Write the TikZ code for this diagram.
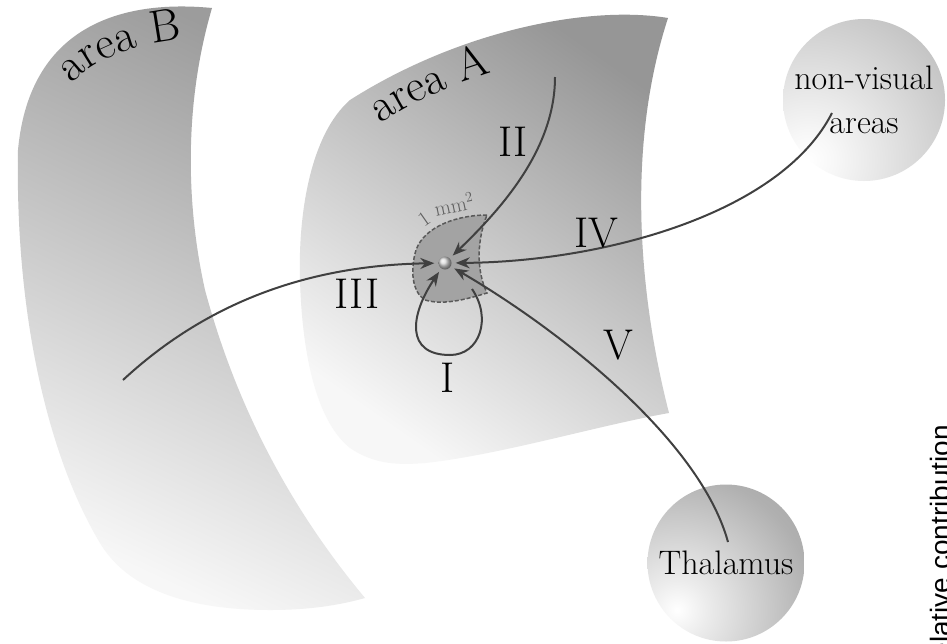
\documentclass[tikz,border=0pt]{standalone}
\usepackage{fontspec}
\newfontfamily\labelsans{Liberation Sans}
\usetikzlibrary{arrows.meta,decorations.text}
\pgfdeclareradialshading{thalglow}{\pgfpointorigin}{color(0bp)=(white); color(5bp)=(gray!15); color(22.7bp)=(gray!62); color(49bp)=(gray!93); color(50bp)=(gray!93)}
\pgfdeclareradialshading{nvglow}{\pgfpointorigin}{color(0bp)=(white); color(4bp)=(gray!6); color(24.8bp)=(gray!46); color(49.4bp)=(gray!80); color(50bp)=(gray!80)}
\tikzset{
  areashade/.style={top color=gray!82, bottom color=gray!6, shading angle=-35, draw=none},
  areaBshade/.style={top color=gray!78, bottom color=gray!6, shading angle=-25, draw=none},
  sphere/.style={circle, inner sep=0pt, draw=none, font=\fontsize{34}{44}\selectfont, align=center},
  conn/.style={draw=black!75, line width=2pt, -{Stealth[length=14pt,width=11pt]}, shorten >=4pt},
  numlab/.style={font=\fontsize{43}{50}\selectfont, inner sep=0pt},
  mmlab/.style={font=\fontsize{21}{24}\selectfont, text=black!62, inner sep=0pt},
  patchstyle/.style={fill=gray!72, draw=black!65, line width=1.5pt, dash pattern=on 4pt off 2pt},
  centreball/.style={circle, inner sep=0pt, minimum size=13pt, shading=ball, ball color=gray!30, draw=none}
}
\begin{document}
\begin{tikzpicture}[x=1pt,y=-1pt]
\clip (0,0) rectangle (947,643);
\fill[white] (0,0) rectangle (947,643);
% area B
\path[areaBshade] (212,8) .. controls (130,0) and (30,20) .. (18,150)
  .. controls (15,320) and (50,460) .. (100,543)
  .. controls (125,585) and (180,610) .. (270,610)
  .. controls (310,610) and (340,605) .. (365,598)
  .. controls (300,520) and (240,420) .. (205,290)
  .. controls (185,200) and (185,100) .. (212,8) -- cycle;
% area A
\path[areashade] (668,18) .. controls (590,5) and (460,30) .. (350,100)
  .. controls (310,135) and (298,215) .. (300,280)
  .. controls (302,350) and (315,420) .. (350,448)
  .. controls (375,465) and (400,465) .. (425,463)
  .. controls (500,455) and (600,425) .. (669,413)
  .. controls (640,300) and (625,150) .. (668,18) -- cycle;
% area labels along their upper rims
\path[decorate, decoration={text along path, text align=left,
  text={|\fontsize{46}{52}\selectfont|area B}}]
  (72,84) .. controls (98,57) and (138,40) .. (222,36);
\path[decorate, decoration={text along path, text align=left,
  text={|\fontsize{46}{52}\selectfont|area A}}]
  (381,124) .. controls (418,99) and (458,80) .. (540,60);
% shaded spheres (highlight at lower left)
\begin{scope}
  \clip (864,100) circle (81);
  \shade[shading=nvglow] (808,160) circle (165);
\end{scope}
\begin{scope}
  \clip (726,563) circle (78.5);
  \shade[shading=thalglow] (677,610) circle (150);
\end{scope}
\node[sphere, minimum size=162pt] (nv) at (864,100) {non-visual\\areas};
\node[sphere, minimum size=157pt] (th) at (726,563) {Thalamus};
% 1 mm^2 patch
\path[patchstyle] (487,215) .. controls (460,215) and (425,225) .. (416,250)
  .. controls (410,270) and (412,292) .. (425,300)
  .. controls (445,306) and (470,298) .. (487,293)
  .. controls (476,270) and (477,240) .. (487,215) -- cycle;
\node[mmlab, rotate=35] (one) at (424,219) {1};
\node[mmlab, rotate=12, anchor=base west] (mm) at (436,217) {mm$^2$};
% central point
\node[centreball] (c) at (445,263) {};
% connector end points
\coordinate (s1) at (472,289);
\coordinate (s2) at (555,77);
\coordinate (s3) at (123,380);
\coordinate (s4) at (832,113);
\coordinate (s5) at (728,542);
% connectors
\draw[conn] (s1) .. controls (492,318) and (480,355) .. (450,355)
  .. controls (405,355) and (410,315) .. (c);
\draw[conn] (s2) .. controls (555,150) and (500,210) .. (c);
\draw[conn] (s3) .. controls (220,290) and (330,265) .. (c);
\draw[conn] (s4) .. controls (780,215) and (600,262) .. (c);
\draw[conn] (s5) .. controls (700,440) and (560,330) .. (c);
% labels
\node[numlab] (lI) at (448,378) {I};
\node[numlab] (lII) at (513,142) {II};
\node[numlab] (lIII) at (357,294) {III};
\node[numlab] (lIV) at (596,233) {IV};
\node[numlab] (lV) at (618,345) {V};
% cut-off axis label at the right edge
\node[rotate=90, anchor=base west, inner sep=0pt, font=\labelsans\fontsize{28}{32}\selectfont] (rc) at (950,668) {relative contribution};
\end{tikzpicture}
\end{document}
